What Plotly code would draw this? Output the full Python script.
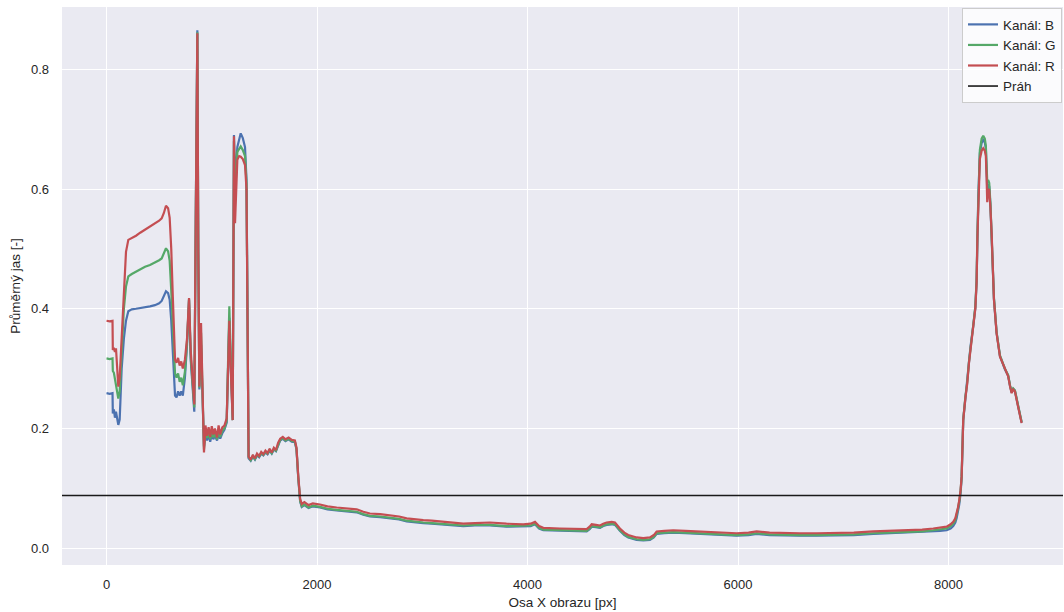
import plotly.graph_objects as go

# --- data ---
pozice_x = [
    0, 30, 57, 60, 70, 80, 90, 100, 112, 125, 144, 165, 185, 207, 240, 280, 320, 366, 413, 460,
    500, 524, 545, 565, 585, 600, 615, 630, 651, 665, 680, 695, 710, 725, 745, 765, 784, 800, 815, 834,
    848, 863, 872, 882, 898, 912, 926, 940, 955, 970, 985, 1000, 1015, 1030, 1050, 1065, 1080, 1100, 1120, 1142,
    1155, 1167, 1180, 1199, 1211, 1221, 1243, 1260, 1275, 1295, 1316, 1330, 1350, 1370, 1390, 1410, 1430, 1450, 1470, 1490,
    1510, 1530, 1550, 1570, 1590, 1610, 1630, 1650, 1675, 1700, 1730, 1760, 1790, 1805, 1822, 1840, 1855, 1880, 1920, 1960,
    2028, 2100, 2187, 2280, 2377, 2440, 2503, 2600, 2693, 2780, 2852, 2930, 3010, 3090, 3168, 3280, 3390, 3500, 3643, 3800,
    3960, 4030, 4071, 4110, 4150, 4308, 4450, 4562, 4590, 4610, 4650, 4689, 4720, 4752, 4800, 4831, 4878, 4920, 4957, 5037,
    5100, 5163, 5200, 5227, 5300, 5385, 5500, 5600, 5702, 5850, 5987, 6100, 6177, 6300, 6450, 6589, 6750, 6968, 7100, 7285,
    7450, 7602, 7750, 7855, 7920, 7982, 8020, 8045, 8065, 8077, 8090, 8102, 8115, 8125, 8140, 8160, 8178, 8195, 8210, 8235,
    8255, 8267, 8275, 8283, 8298, 8315, 8330, 8345, 8355, 8362, 8368, 8378, 8387, 8398, 8410, 8432, 8457, 8489, 8536, 8567,
    8585, 8600, 8615, 8631, 8662, 8695,
]

kanal_b = [
    0.259, 0.258, 0.259, 0.225, 0.232, 0.218, 0.228, 0.215, 0.206, 0.215, 0.300, 0.350, 0.380, 0.396, 0.399, 0.400, 0.401, 0.403, 0.404, 0.406,
    0.409, 0.413, 0.421, 0.429, 0.426, 0.415, 0.380, 0.330, 0.255, 0.252, 0.262, 0.255, 0.262, 0.255, 0.285, 0.340, 0.415, 0.315, 0.268, 0.228,
    0.552, 0.865, 0.490, 0.265, 0.340, 0.240, 0.170, 0.190, 0.180, 0.190, 0.178, 0.190, 0.182, 0.188, 0.180, 0.190, 0.183, 0.192, 0.198, 0.210,
    0.310, 0.385, 0.305, 0.214, 0.690, 0.610, 0.670, 0.684, 0.693, 0.685, 0.670, 0.615, 0.150, 0.146, 0.153, 0.148, 0.155, 0.152, 0.158, 0.155,
    0.160, 0.157, 0.163, 0.158, 0.165, 0.162, 0.173, 0.180, 0.183, 0.179, 0.182, 0.178, 0.177, 0.165, 0.117, 0.078, 0.069, 0.072, 0.067, 0.070,
    0.068, 0.065, 0.063, 0.061, 0.060, 0.056, 0.053, 0.052, 0.050, 0.048, 0.045, 0.043, 0.042, 0.041, 0.040, 0.038, 0.037, 0.038, 0.038, 0.036,
    0.036, 0.037, 0.040, 0.033, 0.030, 0.029, 0.028, 0.028, 0.032, 0.036, 0.035, 0.034, 0.037, 0.039, 0.040, 0.039, 0.029, 0.022, 0.018, 0.014,
    0.013, 0.014, 0.018, 0.024, 0.025, 0.026, 0.025, 0.024, 0.024, 0.022, 0.021, 0.022, 0.024, 0.022, 0.021, 0.021, 0.021, 0.021, 0.022, 0.024,
    0.025, 0.026, 0.027, 0.028, 0.029, 0.030, 0.033, 0.037, 0.043, 0.050, 0.060, 0.073, 0.092, 0.118, 0.214, 0.250, 0.276, 0.311, 0.338, 0.371,
    0.402, 0.446, 0.524, 0.586, 0.660, 0.677, 0.682, 0.678, 0.668, 0.632, 0.600, 0.608, 0.604, 0.574, 0.528, 0.416, 0.360, 0.321, 0.299, 0.288,
    0.271, 0.260, 0.266, 0.263, 0.237, 0.210,
]

kanal_g = [
    0.317, 0.316, 0.317, 0.296, 0.293, 0.282, 0.275, 0.265, 0.250, 0.262, 0.330, 0.400, 0.437, 0.454, 0.458, 0.462, 0.466, 0.470, 0.473, 0.477,
    0.481, 0.484, 0.492, 0.501, 0.496, 0.480, 0.430, 0.370, 0.292, 0.285, 0.292, 0.278, 0.285, 0.272, 0.295, 0.345, 0.416, 0.320, 0.275, 0.235,
    0.550, 0.862, 0.495, 0.268, 0.360, 0.245, 0.165, 0.195, 0.184, 0.194, 0.182, 0.196, 0.185, 0.192, 0.182, 0.196, 0.186, 0.196, 0.200, 0.213,
    0.320, 0.404, 0.320, 0.214, 0.680, 0.590, 0.662, 0.668, 0.671, 0.665, 0.655, 0.610, 0.152, 0.147, 0.154, 0.149, 0.156, 0.153, 0.159, 0.156,
    0.161, 0.158, 0.164, 0.159, 0.166, 0.163, 0.174, 0.181, 0.184, 0.180, 0.183, 0.179, 0.178, 0.166, 0.118, 0.079, 0.070, 0.073, 0.068, 0.071,
    0.069, 0.066, 0.064, 0.062, 0.061, 0.057, 0.054, 0.053, 0.051, 0.049, 0.046, 0.044, 0.043, 0.042, 0.041, 0.039, 0.038, 0.039, 0.039, 0.037,
    0.037, 0.038, 0.041, 0.034, 0.031, 0.030, 0.029, 0.029, 0.033, 0.037, 0.036, 0.035, 0.038, 0.040, 0.041, 0.040, 0.030, 0.023, 0.019, 0.015,
    0.014, 0.015, 0.019, 0.025, 0.026, 0.027, 0.026, 0.025, 0.025, 0.023, 0.022, 0.023, 0.025, 0.023, 0.022, 0.022, 0.022, 0.022, 0.023, 0.025,
    0.026, 0.027, 0.028, 0.030, 0.031, 0.033, 0.037, 0.041, 0.047, 0.055, 0.066, 0.078, 0.096, 0.120, 0.215, 0.252, 0.277, 0.312, 0.339, 0.372,
    0.404, 0.448, 0.527, 0.590, 0.665, 0.684, 0.689, 0.684, 0.672, 0.640, 0.613, 0.615, 0.610, 0.578, 0.530, 0.418, 0.361, 0.322, 0.300, 0.289,
    0.272, 0.261, 0.267, 0.264, 0.238, 0.211,
]

kanal_r = [
    0.380, 0.379, 0.380, 0.331, 0.335, 0.328, 0.334, 0.300, 0.270, 0.285, 0.360, 0.440, 0.495, 0.515, 0.518, 0.522, 0.527, 0.532, 0.537, 0.542,
    0.547, 0.551, 0.560, 0.572, 0.568, 0.552, 0.500, 0.420, 0.315, 0.310, 0.318, 0.305, 0.312, 0.300, 0.315, 0.350, 0.418, 0.330, 0.285, 0.240,
    0.550, 0.860, 0.500, 0.270, 0.376, 0.250, 0.160, 0.205, 0.188, 0.202, 0.186, 0.204, 0.190, 0.200, 0.185, 0.205, 0.190, 0.202, 0.205, 0.217,
    0.300, 0.380, 0.300, 0.214, 0.688, 0.543, 0.649, 0.655, 0.654, 0.650, 0.640, 0.600, 0.153, 0.148, 0.156, 0.150, 0.158, 0.154, 0.161, 0.157,
    0.163, 0.159, 0.166, 0.160, 0.168, 0.164, 0.176, 0.183, 0.186, 0.182, 0.185, 0.181, 0.180, 0.168, 0.120, 0.082, 0.074, 0.077, 0.072, 0.075,
    0.073, 0.070, 0.068, 0.066, 0.065, 0.061, 0.058, 0.057, 0.055, 0.053, 0.050, 0.048, 0.047, 0.046, 0.045, 0.043, 0.041, 0.042, 0.043, 0.041,
    0.040, 0.041, 0.044, 0.037, 0.034, 0.033, 0.032, 0.032, 0.036, 0.040, 0.039, 0.038, 0.041, 0.043, 0.044, 0.043, 0.033, 0.026, 0.022, 0.018,
    0.017, 0.018, 0.022, 0.028, 0.029, 0.030, 0.029, 0.028, 0.028, 0.026, 0.025, 0.026, 0.028, 0.026, 0.025, 0.025, 0.025, 0.025, 0.026, 0.028,
    0.029, 0.030, 0.031, 0.033, 0.034, 0.036, 0.040, 0.044, 0.050, 0.058, 0.068, 0.080, 0.097, 0.120, 0.214, 0.250, 0.275, 0.310, 0.337, 0.370,
    0.400, 0.443, 0.520, 0.582, 0.650, 0.664, 0.668, 0.664, 0.655, 0.620, 0.578, 0.600, 0.598, 0.570, 0.526, 0.415, 0.359, 0.320, 0.298, 0.287,
    0.270, 0.259, 0.265, 0.262, 0.236, 0.209,
]

prah = 0.088
rozsah_x = [-423, 9088]
rozsah_y = [-0.028, 0.904]
ticky_x = [0, 2000, 4000, 6000, 8000]
ticky_y = [0.0, 0.2, 0.4, 0.6, 0.8]
popisky_y = ["0.0", "0.2", "0.4", "0.6", "0.8"]

barvy = {"B": "#4c72b0", "G": "#55a868", "R": "#c44e52"}
FONT = "Liberation Sans, Arial, Helvetica, sans-serif"
TEXT = "#262626"

fig = go.Figure()
for nazev, hodnoty in (("B", kanal_b), ("G", kanal_g), ("R", kanal_r)):
    fig.add_trace(go.Scatter(
        x=pozice_x, y=hodnoty, mode="lines", name=f"Kanál: {nazev}",
        line=dict(color=barvy[nazev], width=2.2),
    ))
fig.add_trace(go.Scatter(
    x=rozsah_x, y=[prah, prah], mode="lines", name="Práh",
    line=dict(color="#1a1a1a", width=1.6),
))

fig.update_layout(
    width=1064, height=612,
    margin=dict(l=62, r=1, t=7, b=47),
    paper_bgcolor="white",
    plot_bgcolor="#eaeaf2",
    font=dict(family=FONT, size=13, color=TEXT),
    showlegend=True,
    legend=dict(
        x=0.999, y=0.998, xanchor="right", yanchor="top",
        bgcolor="rgba(255,255,255,0.8)", bordercolor="#cccccc", borderwidth=1,
        font=dict(size=13.5, color=TEXT),
    ),
)
fig.update_xaxes(
    range=rozsah_x, tickvals=ticky_x, ticktext=[str(v) for v in ticky_x],
    showgrid=True, gridcolor="white", gridwidth=1.2, zeroline=False,
    showline=False, ticks="", ticklabelstandoff=10,
    title=dict(text="Osa X obrazu [px]", standoff=6, font=dict(size=13.5)),
)
fig.update_yaxes(
    range=rozsah_y, tickvals=ticky_y, ticktext=popisky_y,
    showgrid=True, gridcolor="white", gridwidth=1.2, zeroline=False,
    showline=False, ticks="", ticklabelstandoff=12,
    title=dict(text="Průměrný jas [-]", standoff=7, font=dict(size=13.5)),
)

fig.write_html("out.html")
